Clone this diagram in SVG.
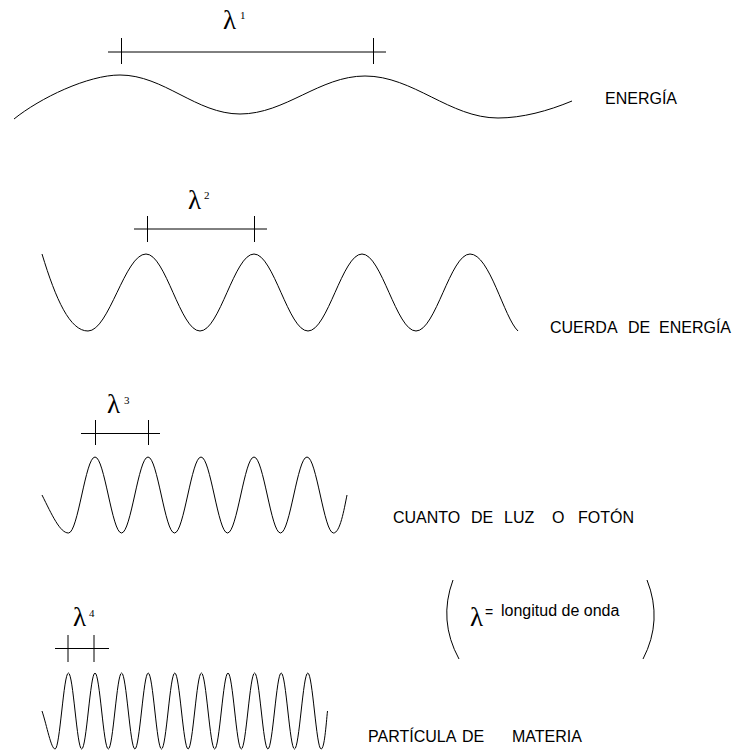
<svg xmlns="http://www.w3.org/2000/svg" width="738" height="751" viewBox="0 0 738 751">
<style>
.wave{fill:none;stroke:#000;stroke-width:1}
.bar{stroke:#000;stroke-width:1;fill:none}
.lam{font-family:"Liberation Serif","Times New Roman",serif;font-size:27px;fill:#000}
.sup{font-family:"Liberation Serif","Times New Roman",serif;font-size:11px;fill:#000}
.lbl{font-family:"Liberation Sans",Arial,sans-serif;font-size:16px;fill:#000}
</style>
<rect width="738" height="751" fill="#fff"/>
<g id="energia">
<path class="wave" d="M14,119 C40,98 88,75 120,75 C163.6,75 196.4,114 240,114 C285.4,114 319.6,76 365,76 C413.3,76 449.7,118 498,118 C522,118 548,111 572,101"/>
<line class="bar" x1="108" y1="52" x2="386" y2="52"/>
<line class="bar" x1="121.5" y1="38" x2="121.5" y2="64"/>
<line class="bar" x1="373.5" y1="38" x2="373.5" y2="64"/>
<text class="lam" x="223" y="29">λ</text><text class="sup" x="240" y="19">1</text>
<text class="lbl" x="605" y="104">ENERGÍA</text>
</g>
<g id="cuerda">
<path class="wave" d="M42,254 C56,300 70,331 88,331 C109,331 125,254 146,254 C165.6,254 180.4,331 200,331 S234.4,254 254,254 S288.4,331 308,331 S342.4,254 362,254 S396.4,331 416,331 S450.4,254 470,254 C489.6,254 504,318 518,331"/>
<line class="bar" x1="134" y1="229" x2="267" y2="229"/>
<line class="bar" x1="147.5" y1="216" x2="147.5" y2="242"/>
<line class="bar" x1="254.5" y1="216" x2="254.5" y2="242"/>
<text class="lam" x="188" y="209">λ</text><text class="sup" x="204" y="199">2</text>
<text class="lbl" y="333"><tspan x="550">CUERDA</tspan><tspan x="628">DE</tspan><tspan x="659">ENERGÍA</tspan></text>
</g>
<g id="cuanto">
<path class="wave" d="M42,495 C52,515 60,533 68.5,533 C78.1,533 85.4,457 95,457 S111.9,533 121.5,533 S138.4,457 148,457 S164.9,533 174.5,533 S191.4,457 201,457 S217.9,533 227.5,533 S244.4,457 254,457 S270.9,533 280.5,533 S297.4,457 307,457 S323.9,533 333.5,533 C340,533 344,510 347,495"/>
<line class="bar" x1="81" y1="433.5" x2="160" y2="433.5"/>
<line class="bar" x1="95.5" y1="420" x2="95.5" y2="445"/>
<line class="bar" x1="148.5" y1="420" x2="148.5" y2="445"/>
<text class="lam" x="107" y="413">λ</text><text class="sup" x="124" y="404">3</text>
<text class="lbl" y="523"><tspan x="393">CUANTO</tspan><tspan x="471">DE</tspan><tspan x="504">LUZ</tspan><tspan x="552">O</tspan><tspan x="578">FOTÓN</tspan></text>
</g>
<g id="particula">
<path class="wave" d="M42,711 C47,726 51,749 55.1,749 C59.9,749 63.6,673 68.4,673 S76.9,749 81.7,749 S90.2,673 95,673 S103.5,749 108.3,749 S116.8,673 121.6,673 S130.1,749 134.9,749 S143.4,673 148.2,673 S156.7,749 161.5,749 S170,673 174.8,673 S183.3,749 188.1,749 S196.6,673 201.4,673 S209.9,749 214.7,749 S223.2,673 228,673 S236.5,749 241.3,749 S249.8,673 254.6,673 S263.1,749 267.9,749 S276.4,673 281.2,673 S289.7,749 294.5,749 S303,673 307.8,673 S316.3,749 321.1,749 C324.5,749 326,725 327.5,711"/>
<line class="bar" x1="55" y1="648.5" x2="109" y2="648.5"/>
<line class="bar" x1="68" y1="635" x2="68" y2="662"/>
<line class="bar" x1="94" y1="635" x2="94" y2="662"/>
<text class="lam" x="73" y="626">λ</text><text class="sup" x="89" y="617">4</text>
<text class="lbl" y="742"><tspan x="368">PARTÍCULA</tspan><tspan x="462">DE</tspan><tspan x="512">MATERIA</tspan></text>
</g>
<g id="leyenda">
<path class="wave" d="M453,580 Q438,620.5 459,659"/>
<path class="wave" d="M647,580 Q663,620.5 643,659"/>
<text class="lam" x="470" y="626">λ</text>
<text class="lbl" x="485" y="617" style="font-size:14px">=</text>
<text class="lbl" x="501" y="616">longitud de onda</text>
</g>
</svg>
